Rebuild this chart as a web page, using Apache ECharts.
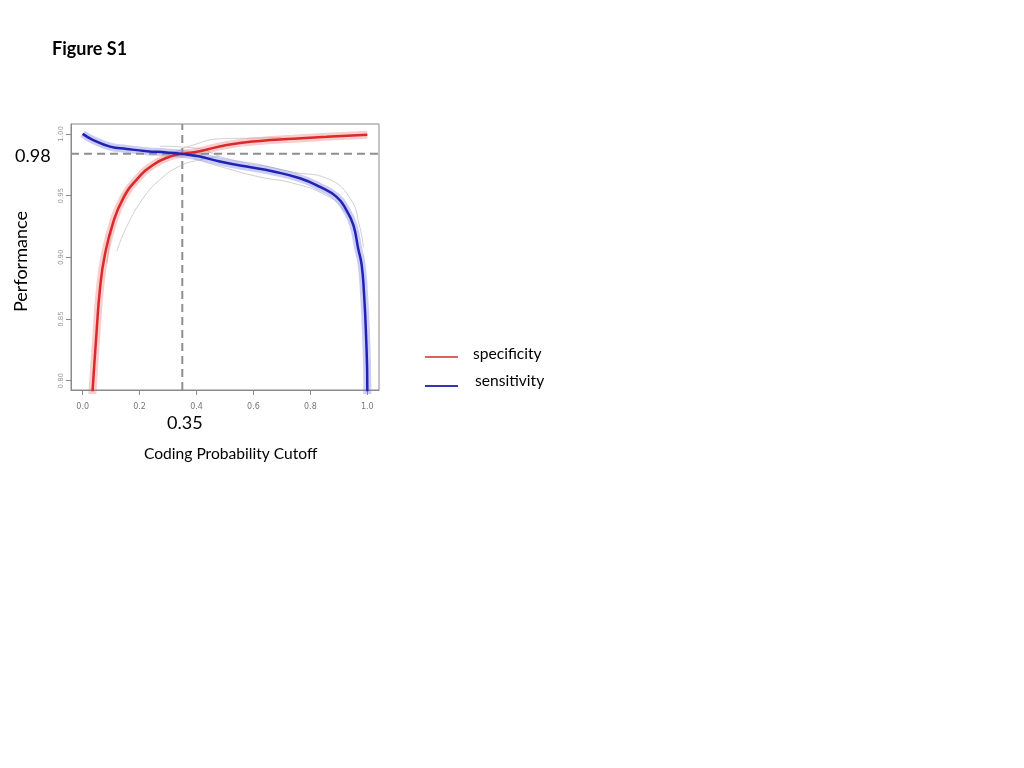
<!DOCTYPE html>
<html><head><meta charset="utf-8">
<script src="https://cdn.jsdelivr.net/npm/echarts@6/dist/echarts.min.js"></script>
<style>html,body{margin:0;padding:0;background:#fff}#c{width:1024px;height:768px}</style>
</head><body><div id="c"></div>
<script>
// Main curves (x = cutoff, y = performance)
const specificity = [[0.033,0.785],[0.035,0.7925],[0.049,0.840],[0.061,0.875],[0.078,0.902],[0.108,0.929],[0.143,0.948],[0.19,0.963],[0.248,0.975],[0.307,0.9816],[0.35,0.9838],[0.412,0.986],[0.506,0.991],[0.623,0.9943],[0.74,0.996],[0.857,0.9976],[1.0,0.9992]];
const sensitivity = [[0.0,1.0],[0.037,0.995],[0.096,0.9897],[0.155,0.9878],[0.225,0.986],[0.295,0.985],[0.35,0.9838],[0.412,0.9816],[0.482,0.9776],[0.576,0.9735],[0.67,0.9695],[0.763,0.964],[0.834,0.957],[0.892,0.949],[0.927,0.938],[0.951,0.926],[0.968,0.907],[0.98,0.894],[0.988,0.872],[0.995,0.84],[1.0,0.7925],[1.0,0.78]];
// Faint fold curves (envelopes)
const specUpper = [[0.085,0.895],[0.1,0.918],[0.12,0.935],[0.155,0.955],[0.225,0.970],[0.307,0.983],[0.389,0.991],[0.483,0.996],[0.576,0.9965],[0.7,0.997]];
const specLower = [[0.12,0.905],[0.155,0.925],[0.213,0.948],[0.272,0.963],[0.342,0.974],[0.412,0.979],[0.48,0.982]];
const sensUpper = [[0.271,0.990],[0.389,0.9887],[0.506,0.980],[0.623,0.975],[0.74,0.969],[0.857,0.964],[0.939,0.948],[0.974,0.924],[0.986,0.908]];
const sensLower = [[0.389,0.980],[0.506,0.972],[0.623,0.965],[0.74,0.960],[0.857,0.950],[0.915,0.939],[0.951,0.926]];
const cutoff = 0.35;
const perf = 0.9838;
const xMin = -0.041, xMax = 1.041, yMin = 0.7925, yMax = 1.008;
const xTicks = [0, 0.2, 0.4, 0.6, 0.8, 1.0];
const yTicks = [0.80, 0.85, 0.90, 0.95, 1.00];

const chart = echarts.init(document.getElementById('c'));
const faint = (d) => ({type:'line', data:d, symbol:'none', smooth:true, silent:true,
  lineStyle:{color:'#c9c9c9', width:0.9}, z:1});
const dashed = (d) => ({type:'line', data:d, symbol:'none', silent:true, z:3,
  lineStyle:{color:'#8f8f8f', width:2, type:[8,5]}});
chart.setOption({
  animation:false,
  grid:{left:71, top:124, width:308, height:266, show:true, borderColor:'#8a8a8a', borderWidth:1, backgroundColor:'#fff'},
  xAxis:{type:'value', min:xMin, max:xMax,
    axisLine:{show:true, onZero:false, lineStyle:{color:'#8a8a8a'}},
    axisTick:{show:true, length:5, customValues:xTicks, lineStyle:{color:'#8a8a8a'}},
    axisLabel:{customValues:xTicks, fontSize:8, color:'#777', margin:13, fontFamily:'DejaVu Sans',
      formatter:(v)=>v.toFixed(1)},
    splitLine:{show:false}},
  yAxis:{type:'value', min:yMin, max:yMax,
    axisLine:{show:true, onZero:false, lineStyle:{color:'#8a8a8a'}},
    axisTick:{show:true, length:5, customValues:yTicks, lineStyle:{color:'#8a8a8a'}},
    axisLabel:{customValues:yTicks, fontSize:7, color:'#999', rotate:90, margin:6, fontFamily:'DejaVu Sans',
      formatter:(v)=>v.toFixed(2)},
    splitLine:{show:false}},
  series:[
    faint(specUpper), faint(specLower), faint(sensUpper), faint(sensLower),
    dashed([[cutoff,yMin],[cutoff,yMax]]),
    dashed([[xMin,perf],[xMax,perf]]),
    {type:'line', data:specificity, symbol:'none', smooth:true, silent:true, z:2,
      lineStyle:{color:'rgba(240,110,110,0.35)', width:8}},
    {type:'line', data:sensitivity, symbol:'none', smooth:true, silent:true, z:2,
      lineStyle:{color:'rgba(110,110,235,0.35)', width:8}},
    {name:'specificity', type:'line', data:specificity, symbol:'none', smooth:true, z:4,
      lineStyle:{color:'#d92b2b', width:2.5}},
    {name:'sensitivity', type:'line', data:sensitivity, symbol:'none', smooth:true, z:5,
      lineStyle:{color:'#1f23b0', width:2.5}}
  ],
  graphic:[
    {type:'text', left:52, top:40, style:{text:'Figure S1', font:'bold 18px Lato', fill:'#000'}},
    {type:'text', left:15, top:147, style:{text:'0.98', font:'18px Lato', fill:'#000'}},
    {type:'text', left:167, top:414, style:{text:'0.35', font:'18px Lato', fill:'#000'}},
    {type:'text', left:144, top:446, style:{text:'Coding Probability Cutoff', font:'15.6px Lato', fill:'#000'}},
    {type:'text', x:12, y:312, rotation:Math.PI/2, style:{text:'Performance', font:'18px Lato', fill:'#000'}},
    {type:'line', shape:{x1:425, y1:357, x2:458, y2:357}, style:{stroke:'#e06060', lineWidth:2}},
    {type:'line', shape:{x1:425, y1:386, x2:458, y2:386}, style:{stroke:'#3535b0', lineWidth:2}},
    {type:'text', left:473, top:346, style:{text:'specificity', font:'15.6px Lato', fill:'#000'}},
    {type:'text', left:475, top:373, style:{text:'sensitivity', font:'15.6px Lato', fill:'#000'}}
  ]
});
</script></body></html>
